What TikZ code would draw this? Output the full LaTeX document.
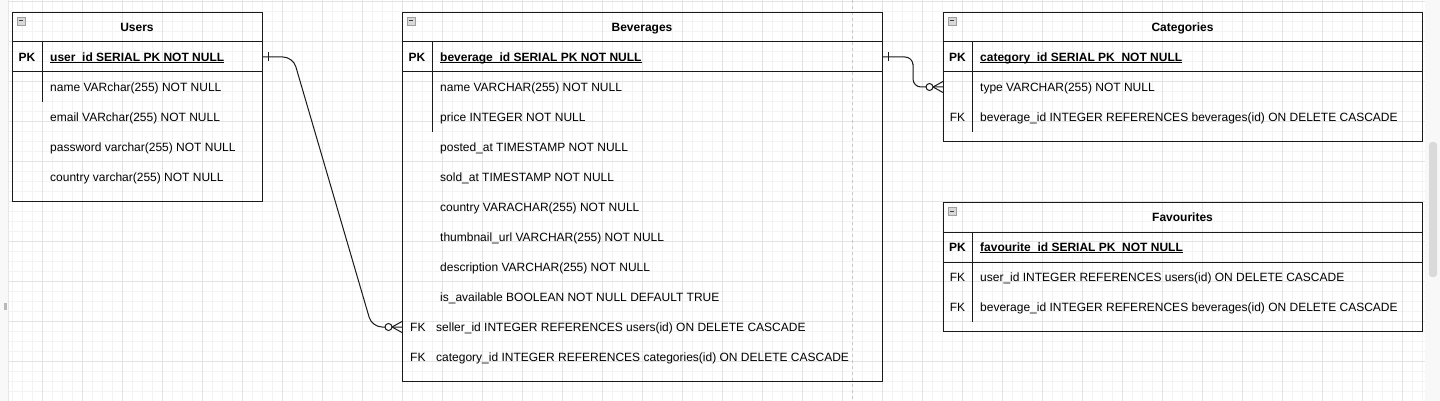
\documentclass[tikz,border=0pt]{standalone}
\usepackage{fontspec}
\setmainfont{Liberation Sans}
\usetikzlibrary{calc}
\definecolor{gminor}{HTML}{F3F3F3}
\definecolor{gmajor}{HTML}{E3E3E3}
\definecolor{strip}{HTML}{F8F8F8}
\definecolor{stripline}{HTML}{E6E6E6}
\definecolor{thumb}{HTML}{DADADA}
\definecolor{pagebreak}{HTML}{C8C8C8}
\definecolor{linecol}{HTML}{1A1A1A}
\newcommand\myul[1]{\setbox0\hbox{#1}\rlap{\rule[-1.8pt]{\wd0}{0.9pt}}\box0}
\newcommand\minusicon[2]{%
  \filldraw[fill=gray!30, draw=gray!75, line width=0.7pt] (#1,#2) rectangle ++(8,8);
  \draw[black!75, line width=1pt] ($(#1,#2)+(1.6,4)$) -- ++(4.8,0);}
\begin{document}
\begin{tikzpicture}[x=1pt,y=-1pt,
  tbl/.style={draw=linecol, line width=1pt, rectangle, inner sep=0pt, anchor=north west},
  cell/.style={anchor=base west, inner sep=0pt, font=\fontsize{12}{14}\selectfont},
  ttl/.style={anchor=base, inner sep=0pt, font=\fontsize{12}{14}\selectfont\bfseries},
  keyb/.style={anchor=base, inner sep=0pt, font=\fontsize{12}{14}\selectfont\bfseries},
  keyn/.style={anchor=base, inner sep=0pt, font=\fontsize{12}{14}\selectfont},
  pkcell/.style={anchor=base west, inner sep=0pt, font=\fontsize{12}{14}\selectfont\bfseries},
  sep/.style={draw=linecol, line width=1pt},
  rel/.style={draw=linecol, line width=1pt},
  gridminor/.style={draw=gminor, line width=0.8pt},
  gridmajor/.style={draw=gmajor, line width=0.8pt}]
\useasboundingbox (0,0) rectangle (1440,401);
\fill[white] (0,0) rectangle (1440,401);
% grid
\foreach \x in {2,12,...,1432} \draw[gridminor] (\x,0) -- (\x,401);
\foreach \y in {1,11,...,401} \draw[gridminor] (0,\y) -- (1440,\y);
\foreach \x in {2,42,...,1402} \draw[gridmajor] (\x,0) -- (\x,401);
\foreach \y in {1,41,...,401} \draw[gridmajor] (0,\y) -- (1440,\y);
% page break
\draw[pagebreak, dash pattern=on 3pt off 3pt, line width=0.8pt] (852,0) -- (852,401);
% side strips
\fill[strip] (0,0) rectangle (8,401);
\draw[stripline, line width=0.8pt] (8,0) -- (8,401);
\fill[gray!55] (4,303) rectangle (7,310);
\fill[strip] (1425,0) rectangle (1440,401);
\fill[thumb, rounded corners=3pt] (1429,142) rectangle (1437,277);

% ---------- Users ----------
\node[tbl, minimum width=250pt, minimum height=189pt] (users) at (12,12) {};
\draw[sep] (12,42) -- (262,42);
\draw[sep] (12,72) -- (262,72);
\draw[sep] (42,42) -- (42,102);
\minusicon{17}{17}
\node[ttl] (users-t) at (137,31.2) {Users};
\node[keyb] (users-pk) at (27,61.2) {PK};
\node[pkcell] (users-pkf) at (50,61.2) {\myul{user\_id SERIAL PK NOT NULL}};
\node[cell] (users-r1) at (50,91.2) {name VARchar(255) NOT NULL};
\node[cell] (users-r2) at (50,121.2) {email VARchar(255) NOT NULL};
\node[cell] (users-r3) at (50,151.2) {password varchar(255) NOT NULL};
\node[cell] (users-r4) at (50,181.2) {country varchar(255) NOT NULL};

% ---------- Beverages ----------
\node[tbl, minimum width=480pt, minimum height=369pt] (bev) at (402,12) {};
\draw[sep] (402,42) -- (882,42);
\draw[sep] (402,72) -- (882,72);
\draw[sep] (432,42) -- (432,132);
\minusicon{407}{17}
\node[ttl] (bev-t) at (642,31.2) {Beverages};
\node[keyb] (bev-pk) at (417,61.2) {PK};
\node[pkcell] (bev-pkf) at (440,61.2) {\myul{beverage\_id SERIAL PK NOT NULL}};
\node[cell] (bev-r1) at (440,91.2) {name VARCHAR(255) NOT NULL};
\node[cell] (bev-r2) at (440,121.2) {price INTEGER NOT NULL};
\node[cell] (bev-r3) at (440,151.2) {posted\_at TIMESTAMP NOT NULL};
\node[cell] (bev-r4) at (440,181.2) {sold\_at TIMESTAMP NOT NULL};
\node[cell] (bev-r5) at (440,211.2) {country VARACHAR(255) NOT NULL};
\node[cell] (bev-r6) at (440,241.2) {thumbnail\_url VARCHAR(255) NOT NULL};
\node[cell] (bev-r7) at (440,271.2) {description VARCHAR(255) NOT NULL};
\node[cell] (bev-r8) at (440,301.2) {is\_available BOOLEAN NOT NULL DEFAULT TRUE};
\node[cell] (bev-fk1) at (410,331.2) {FK};
\node[cell] (bev-r9) at (436,331.2) {seller\_id INTEGER REFERENCES users(id) ON DELETE CASCADE};
\node[cell] (bev-fk2) at (410,361.2) {FK};
\node[cell] (bev-r10) at (436,361.2) {category\_id INTEGER REFERENCES categories(id) ON DELETE CASCADE};

% ---------- Categories ----------
\node[tbl, minimum width=479pt, minimum height=129pt] (cat) at (943,12) {};
\draw[sep] (943,42) -- (1422,42);
\draw[sep] (943,72) -- (1422,72);
\draw[sep] (972,42) -- (972,132);
\minusicon{948}{17}
\node[ttl] (cat-t) at (1182.5,31.2) {Categories};
\node[keyb] (cat-pk) at (957.5,61.2) {PK};
\node[pkcell] (cat-pkf) at (980,61.2) {\myul{category\_id SERIAL PK\ \ NOT NULL}};
\node[cell] (cat-r1) at (980,91.2) {type VARCHAR(255) NOT NULL};
\node[keyn] (cat-fk) at (957.5,121.2) {FK};
\node[cell] (cat-r2) at (980,121.2) {beverage\_id INTEGER REFERENCES beverages(id) ON DELETE CASCADE};

% ---------- Favourites ----------
\node[tbl, minimum width=479pt, minimum height=129pt] (fav) at (943,202) {};
\draw[sep] (943,232) -- (1422,232);
\draw[sep] (943,262) -- (1422,262);
\draw[sep] (972,232) -- (972,322);
\minusicon{948}{207}
\node[ttl] (fav-t) at (1182.5,221.2) {Favourites};
\node[keyb] (fav-pk) at (957.5,251.2) {PK};
\node[pkcell] (fav-pkf) at (980,251.2) {\myul{favourite\_id SERIAL PK\ \ NOT NULL}};
\node[keyn] (fav-fk1) at (957.5,281.2) {FK};
\node[cell] (fav-r1) at (980,281.2) {user\_id INTEGER REFERENCES users(id) ON DELETE CASCADE};
\node[keyn] (fav-fk2) at (957.5,311.2) {FK};
\node[cell] (fav-r2) at (980,311.2) {beverage\_id INTEGER REFERENCES beverages(id) ON DELETE CASCADE};

% ---------- connectors ----------
\path (users.east |- 0,57) coordinate (uPK);
\path (bev.west |- 0,327) coordinate (bSel);
\path (bev.east |- 0,57) coordinate (bPK);
\path (cat.west |- 0,87) coordinate (cType);

\draw[rel, rounded corners=10pt] (uPK) -- ($(uPK)+(30,0)$) -- ($(bSel)+(-30,0)$) -- (bSel);
\draw[rel] ($(uPK)+(5,-4.5)$) -- ++(0,9);
\draw[rel] ($(bSel)+(-10,0)$) -- ($(bSel)+(0,-5.5)$);
\draw[rel] ($(bSel)+(-10,0)$) -- ($(bSel)+(0,5.5)$);
\draw[rel, fill=white] ($(bSel)+(-13.5,0)$) circle (3.5pt);

\draw[rel, rounded corners=8pt] (bPK) -| ($(bPK)!0.5!(cType)$) |- (cType);
\draw[rel] ($(bPK)+(5,-4.5)$) -- ++(0,9);
\draw[rel] ($(cType)+(-10,0)$) -- ($(cType)+(0,-5.5)$);
\draw[rel] ($(cType)+(-10,0)$) -- ($(cType)+(0,5.5)$);
\draw[rel, fill=white] ($(cType)+(-13.5,0)$) circle (3.5pt);
\end{tikzpicture}
\end{document}
